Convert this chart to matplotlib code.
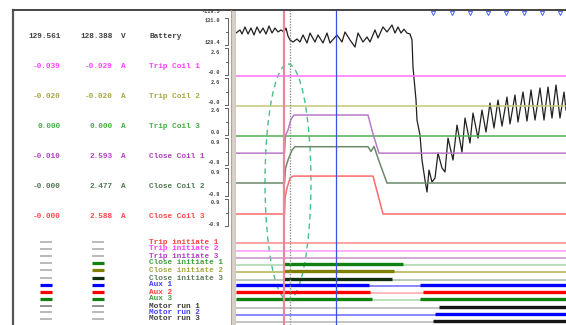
import numpy as np
import matplotlib.pyplot as plt
from matplotlib.patches import Ellipse, Rectangle

W, H = 566, 325

# ---------------- data ----------------
# cursor times (ms from left edge of the trace window)
cursor_red_t = 48
cursor_dot_t = 54
cursor_blue_t = 100

analog_names = ["Battery", "Trip Coil 1", "Trip Coil 2", "Trip Coil 3",
                "Close Coil 1", "Close Coil 2", "Close Coil 3"]
analog_units = ["V", "A", "A", "A", "A", "A", "A"]
cursor1_vals = ["129.561", "-0.039", "-0.020", "0.000", "-0.010", "-0.000", "-0.000"]
cursor2_vals = ["128.388", "-0.029", "-0.020", "0.000", "2.593", "2.477", "2.588"]
scale_top = ["131.0", "2.6", "2.6", "2.6", "0.9", "0.9", "0.9"]
scale_bot = ["128.4", "-0.0", "-0.0", "0.0", "-0.9", "-0.9", "-0.9"]

bat_t = [0, 4, 6, 9, 12, 15, 18, 21, 24, 27, 30, 33, 36, 39, 42, 45, 48, 50, 52,
         54, 57, 61, 64, 67, 71, 74, 79, 82, 87, 91, 94, 101, 106, 109, 114, 119,
         122, 127, 131, 134, 139, 142, 147, 151, 156, 159, 162, 165, 168, 171, 174,
         176, 177, 180, 181, 184, 186, 189, 191, 193, 196, 199, 202, 206, 209, 212,
         217, 221, 226, 229, 234, 237, 242, 246, 250, 254, 258, 262, 266, 271, 274,
         279, 282, 287, 291, 295, 299, 304, 308, 312, 316, 320, 324, 328, 330]
bat_v = [129.51, 129.89, 129.39, 130.26, 129.39, 130.13, 129.27, 130.26, 129.51,
         130.13, 129.39, 130.38, 129.51, 130.13, 129.64, 129.89, 129.64, 130.13,
         129.14, 128.65, 128.40, 128.77, 128.40, 129.27, 128.28, 129.51, 128.40,
         129.27, 128.28, 129.51, 128.28, 129.27, 128.40, 129.64, 128.65, 127.78,
         129.51, 128.40, 129.02, 128.40, 129.89, 128.90, 130.26, 129.64, 130.50,
         129.51, 130.26, 129.51, 129.98, 129.51, 129.39, 128.65, 125.30, 121.22,
         118.74, 116.88, 113.79, 111.31, 109.83, 112.55, 111.07, 111.56, 114.66,
         112.80, 112.31, 116.51, 113.79, 118.12, 114.78, 118.99, 115.89, 119.61,
         116.51, 119.98, 117.26, 120.85, 117.75, 121.22, 118.00, 121.59, 118.25,
         121.84, 118.50, 122.21, 118.62, 122.46, 118.74, 122.71, 118.74, 122.83,
         118.99, 123.08, 118.99, 122.21, 119.98]

tc_t = [0, 330]
tc1_v = [-0.039, -0.039]
tc2_v = [-0.020, -0.020]
tc3_v = [0.000, 0.000]

cc1_t = [0, 48.5, 49.5, 52, 55, 58, 132, 137, 143, 330]
cc1_v = [-0.010, -0.010, 1.2, 1.57, 2.3, 2.593, 2.593, 1.3, -0.010, -0.010]
cc2_t = [0, 48.5, 49.5, 52, 56, 59, 132, 135, 138, 143, 151, 330]
cc2_v = [0.0, 0.0, 1.0, 1.57, 2.25, 2.477, 2.477, 2.15, 2.5, 1.5, 0.0, 0.0]
cc3_t = [0, 48.5, 49.2, 51, 54, 57, 137, 147, 330]
cc3_v = [0.0, 0.0, 1.2, 1.77, 2.45, 2.588, 2.588, 0.0, 0.0]

marker_t = [197, 216, 234, 252, 270, 288, 306, 324]

digital_names = ["Trip initiate 1", "Trip initiate 2", "Trip initiate 3",
                 "Close initiate 1", "Close initiate 2", "Close initiate 3",
                 "Aux 1", "Aux 2", "Aux 3", "Motor run 1", "Motor run 2", "Motor run 3"]
digital_on = [[], [], [],
              [(48, 167)], [(48, 158)], [(48, 156)],
              [(0, 133), (184, 330)], [(0, 134), (187, 330)], [(0, 136), (184, 330)],
              [(203, 330)], [(199, 330)], [(197, 330)]]

# ---------------- styling / layout ----------------
analog_text_col = ["#404040", "#ff40ff", "#a8a840", "#40b040", "#b040c0", "#507850", "#ff4848"]
analog_line_col = ["#202020", "#ff70ff", "#c8c878", "#50b050", "#b878c8", "#6a8a6a", "#ff6a6a"]
analog_text_y = [36, 66, 97, 127, 157, 187, 217]
scale_top_y = [21, 52, 82, 111, 142, 172, 203]
scale_bot_y = [42, 72, 102, 133, 163, 194, 224]
bracket_y = [(18, 45), (48, 75), (78, 105), (108, 135), (138, 165), (168, 196), (199, 226)]
# zero row (pixel) and pixels per unit for the traces
zero_row = [42 - 128.4 * -8.08, 75.7, 105.7, 135.7, 153, 183, 214]
gain = [8.08, 8.0, 8.0, 8.0, 14.65, 14.65, 14.65]

dig_text_col = ["#ff4040", "#ff40ff", "#b040c0", "#40a040", "#a8a840", "#608060",
                "#4040ff", "#ff4040", "#40a040", "#404040", "#4040ff", "#404040"]
dig_thin_col = ["#ff8888", "#ff9cff", "#c890c8", "#a8d4a8", "#b0b050", "#a8b8a8",
                "#6868ff", "#ffa8a8", "#a8d4a8", "#b4b4b4", "#6868ff", "#b4b4b4"]
dig_thick_col = ["#ff0000", "#ff00ff", "#a000a0", "#108010", "#808000", "#103010",
                 "#0000ff", "#ff0000", "#108010", "#151515", "#0000ff", "#151515"]
dig_text_y = [242, 249, 256, 263, 270, 278, 285, 292, 299, 306, 312, 319]
dig_row_y = [243, 251, 258, 265, 272, 280, 286, 293, 300, 308, 315, 322]

mono = dict(family=["Liberation Mono", "DejaVu Sans Mono"], fontweight="bold")

fig = plt.figure(figsize=(W / 100, H / 100), dpi=100)
fig.patch.set_facecolor("white")

bg = fig.add_axes([0, 0, 1, 1])
bg.set_xlim(0, W)
bg.set_ylim(H, 0)
bg.axis("off")

# frame of the left panel
bg.plot([13, 13], [10, H], color="#555555", lw=1.6)
bg.plot([13, 236], [10, 10], color="#444444", lw=1.4)
bg.add_patch(Rectangle((231, 10), 5, H - 10, facecolor="#d8d0c8", edgecolor="none"))
bg.plot([231, 231], [10, H], color="#a89c90", lw=0.6)
bg.plot([235.5, 235.5], [10, H], color="#707070", lw=0.8)

# analog readings
for i, name in enumerate(analog_names):
    y = analog_text_y[i]
    c = analog_text_col[i]
    bg.text(61, y, cursor1_vals[i], ha="right", va="center", fontsize=5.6, color=c, **mono)
    bg.text(113, y, cursor2_vals[i], ha="right", va="center", fontsize=5.6, color=c, **mono)
    bg.text(121, y, analog_units[i], ha="left", va="center", fontsize=5.6, color=c, **mono)
    bg.text(149, y, name, ha="left", va="center", fontsize=5.6, color=c, **mono)
    bg.text(64 + 156, scale_top_y[i], scale_top[i], ha="right", va="center",
            fontsize=3.7, color="#404040", **mono)
    bg.text(220, scale_bot_y[i], scale_bot[i], ha="right", va="center",
            fontsize=3.7, color="#404040", **mono)
    y0, y1 = bracket_y[i]
    bg.plot([224.5, 228, 228, 224.5], [y0, y0, y1, y1], color="#606060", lw=0.7)
    bg.plot([225.5, 228], [(y0 + y1) / 2] * 2, color="#606060", lw=0.7)
bg.text(220, 11.5, "-119.5", ha="right", va="center", fontsize=3.7, color="#404040", **mono)


def is_on(intervals, t):
    return any(a <= t < b for a, b in intervals)


# digital readings
for i, name in enumerate(digital_names):
    y = dig_text_y[i]
    bg.text(149, y, name, ha="left", va="center", fontsize=5.6, color=dig_text_col[i], **mono)
    for (x0, x1), t in (((40, 52), cursor_red_t - 1), ((92, 104), cursor_blue_t)):
        if is_on(digital_on[i], t):
            bg.plot([x0, x1], [y, y], color=dig_thick_col[i], lw=2.3, solid_capstyle="butt")
        else:
            bg.plot([x0, x1], [y, y], color="#b4b4b4" if i != 9 else "#8a8a8a",
                    lw=1.3, solid_capstyle="butt")

# ---------------- trace window ----------------
ax = fig.add_axes([236 / W, 0, 330 / W, 315 / H])
ax.set_xlim(0, 330)
ax.set_ylim(315, 0)
ax.set_xticks([])
ax.set_yticks([])
for s in ["left", "right", "bottom"]:
    ax.spines[s].set_visible(False)
ax.spines["top"].set_color("#444444")
ax.spines["top"].set_linewidth(1.4)


def row(i, v):
    return np.asarray(zero_row[i]) - 10 - np.asarray(v) * gain[i]


series = [(bat_t, bat_v), (tc_t, tc1_v), (tc_t, tc2_v), (tc_t, tc3_v),
          (cc1_t, cc1_v), (cc2_t, cc2_v), (cc3_t, cc3_v)]
for i, (t, v) in enumerate(series):
    ax.plot(t, row(i, v), color=analog_line_col[i], lw=0.9 if i == 0 else 1.1)

for i in range(len(digital_names)):
    r = dig_row_y[i] - 10
    ax.plot([0, 330], [r, r], color=dig_thin_col[i], lw=1.1)
    for a, b in digital_on[i]:
        ax.plot([a, b], [r - 1.2, r - 1.2], color=dig_thick_col[i], lw=2.4,
                solid_capstyle="butt")

ax.plot(marker_t, [3] * len(marker_t), "v", ms=3, mfc="none", mec="#4a60ff", mew=0.7,
        clip_on=False)

ax.axvline(cursor_red_t, color="#e8889c", lw=1.6)
ax.axvline(cursor_dot_t, color="#909090", lw=1.0, ls=(0, (1, 1)))
ax.axvline(cursor_blue_t, color="#3a52e0", lw=0.9)

ax.add_patch(Ellipse((52, 172), 46, 236, fill=False, ec="#48c088", lw=1.0,
                     ls=(0, (4, 3))))

fig.savefig("out.png", dpi=100)
